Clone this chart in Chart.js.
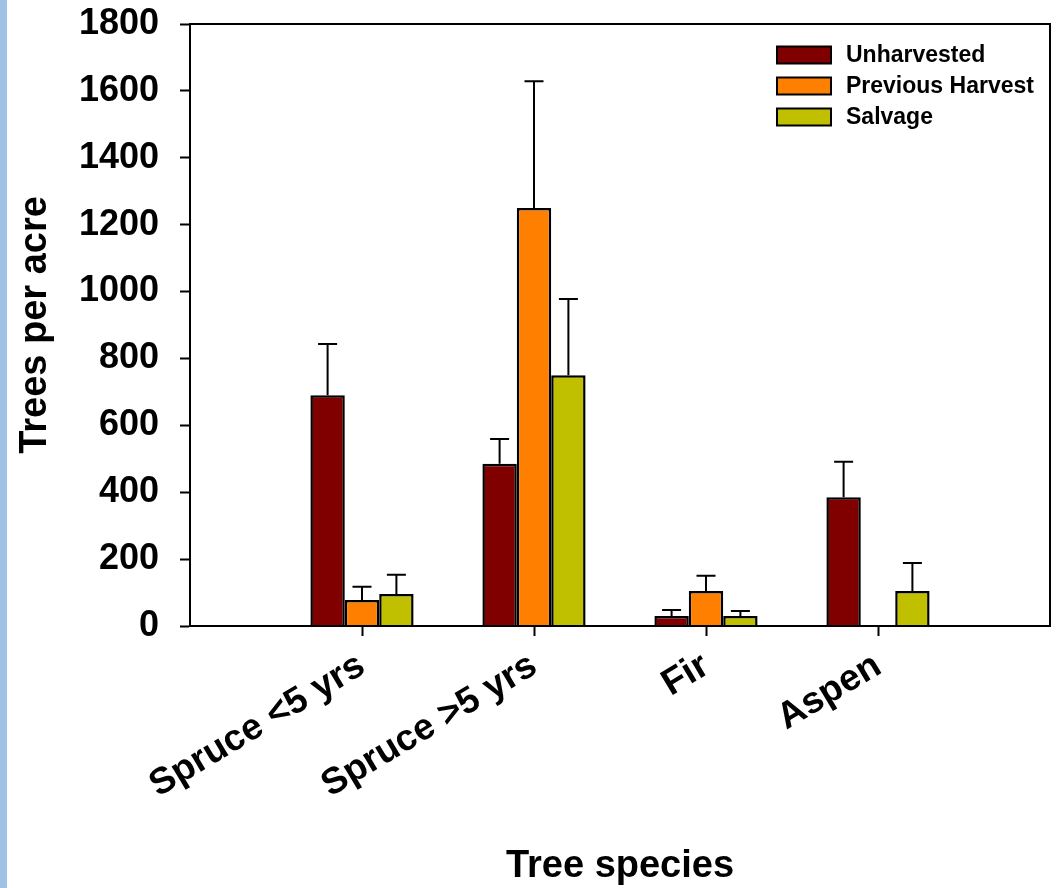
<!DOCTYPE html>
<html>
<head>
<meta charset="utf-8">
<script src="https://cdn.jsdelivr.net/npm/chart.js@4.4.1/dist/chart.umd.min.js"></script>
<style>
  html, body { margin: 0; padding: 0; }
  body {
    width: 1058px; height: 888px; overflow: hidden;
    background: linear-gradient(to right, #9fc3e7 0, #9fc3e7 7px, #ffffff 7px);
  }
  #wrap { position: relative; width: 1058px; height: 888px; }
</style>
</head>
<body>
<div id="wrap"><canvas id="treesChart"></canvas></div>
<script>
const categories = ["Spruce <5 yrs", "Spruce >5 yrs", "Fir", "Aspen"];
const seriesNames = ["Unharvested", "Previous Harvest", "Salvage"];
const unharvested = [690, 485, 30, 385];
const unharvestedErr = [153, 74, 18, 106];
const previousHarvest = [78, 1250, 105, null];
const previousHarvestErr = [39, 379, 45, null];
const salvage = [96, 750, 30, 105];
const salvageErr = [57, 228, 15, 83];
const yTicks = [0, 200, 400, 600, 800, 1000, 1200, 1400, 1600, 1800];

const FONT = "'Liberation Sans', Arial, sans-serif";

// empty slot on each side, so the groups sit at 1..4 of 0..5
const labels = ["", ...categories, ""];
const pad = arr => [null, ...arr, null];

const colors = ["#800000", "#ff8000", "#c0c000"];
const values = [unharvested, previousHarvest, salvage];
const errors = [unharvestedErr, previousHarvestErr, salvageErr];

// upward error bars with caps
const errorBars = {
  id: "errorBars",
  afterDatasetsDraw(chart) {
    const ctx = chart.ctx;
    const y = chart.scales.y;
    ctx.save();
    ctx.strokeStyle = "#000";
    ctx.lineWidth = 2;
    chart.data.datasets.forEach((ds, di) => {
      const meta = chart.getDatasetMeta(di);
      const errs = pad(errors[di]);
      meta.data.forEach((bar, i) => {
        const v = ds.data[i];
        if (v == null || errs[i] == null) return;
        const top = y.getPixelForValue(v + errs[i]);
        ctx.beginPath();
        ctx.moveTo(bar.x, bar.y);
        ctx.lineTo(bar.x, top);
        ctx.moveTo(bar.x - 9.5, top);
        ctx.lineTo(bar.x + 9.5, top);
        ctx.stroke();
      });
    });
    ctx.restore();
  }
};

// box round the plot area and legend inside it
const frameAndLegend = {
  id: "frameAndLegend",
  afterDraw(chart) {
    const { ctx, chartArea: a } = chart;
    ctx.save();
    ctx.strokeStyle = "#000";
    ctx.lineWidth = 2;
    ctx.strokeRect(a.left, a.top, a.right - a.left, a.bottom - a.top);

    ctx.font = "bold 23px " + FONT;
    ctx.textBaseline = "middle";
    ctx.textAlign = "left";
    chart.data.datasets.forEach((ds, i) => {
      const cy = a.top + 31 + i * 31;
      const x0 = a.right - 273;
      ctx.fillStyle = ds.backgroundColor;
      ctx.fillRect(x0, cy - 8.5, 54, 17);
      ctx.strokeRect(x0, cy - 8.5, 54, 17);
      ctx.fillStyle = "#000";
      ctx.fillText(ds.label, x0 + 69, cy + 1);
    });
    ctx.restore();
  }
};

new Chart(document.getElementById("treesChart"), {
  type: "bar",
  data: {
    labels: labels,
    datasets: seriesNames.map((name, i) => ({
      label: name,
      data: pad(values[i]),
      backgroundColor: colors[i],
      borderColor: "#000",
      borderWidth: 2.5,
      barPercentage: 1,
      categoryPercentage: 0.6
    }))
  },
  options: {
    responsive: true,
    maintainAspectRatio: false,
    animation: false,
    layout: { padding: { top: 24, right: 8, left: 0, bottom: 0 } },
    plugins: {
      legend: { display: false },
      tooltip: { enabled: false }
    },
    scales: {
      x: {
        offset: false,
        grid: {
          offset: false,
          drawOnChartArea: false,
          tickLength: 10,
          tickWidth: 2,
          tickColor: c => (c.index === 0 || c.index === labels.length - 1) ? "rgba(0,0,0,0)" : "#000"
        },
        border: { color: "#000", width: 2 },
        ticks: {
          autoSkip: false,
          minRotation: 31,
          maxRotation: 31,
          padding: 8,
          color: "#000",
          font: { family: FONT, size: 37, weight: "bold" }
        },
        title: {
          display: true,
          text: "Tree species",
          color: "#000",
          font: { family: FONT, size: 38, weight: "bold", lineHeight: 1 },
          padding: { top: 0, bottom: 2 }
        },
        afterFit: s => { s.height = 262; s.paddingLeft = 0; s.paddingRight = 0; }
      },
      y: {
        min: 0,
        max: 1800,
        afterBuildTicks: s => { s.ticks = yTicks.map(v => ({ value: v })); },
        grid: {
          drawOnChartArea: false,
          tickLength: 10,
          tickWidth: 2,
          tickColor: "#000"
        },
        border: { color: "#000", width: 2 },
        ticks: {
          padding: 21,
          color: "#000",
          font: { family: FONT, size: 36, weight: "bold" },
          callback: v => String(v)
        },
        title: {
          display: true,
          text: "Trees per acre",
          color: "#000",
          font: { family: FONT, size: 38, weight: "bold", lineHeight: 1 },
          padding: { top: 17, bottom: 0 }
        },
        afterFit: s => { s.width = 190; s.paddingTop = 0; s.paddingBottom = 0; }
      }
    }
  },
  plugins: [errorBars, frameAndLegend]
});
</script>
</body>
</html>
